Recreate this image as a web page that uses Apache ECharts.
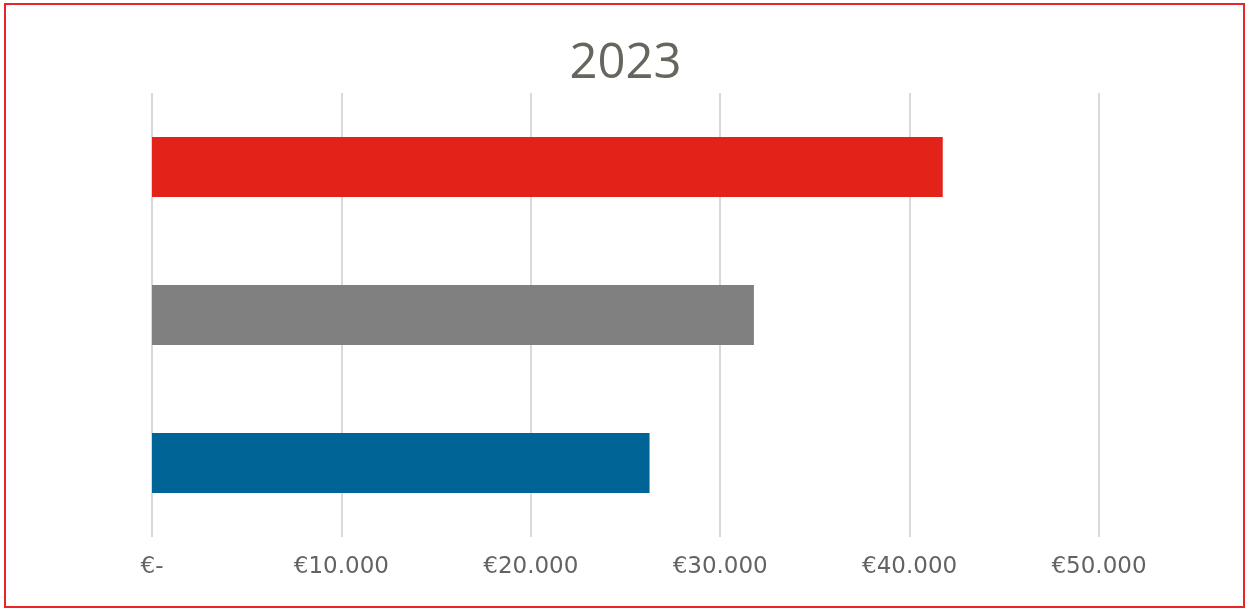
<!DOCTYPE html>
<html>
<head>
<meta charset="utf-8">
<script src="https://cdn.jsdelivr.net/npm/echarts@6/dist/echarts.min.js"></script>
<style>
  html, body { margin: 0; padding: 0; background: #ffffff; }
  #chart { width: 1251px; height: 609px; }
</style>
</head>
<body>
<div id="chart"></div>
<script>
// Yearly amounts in euro, one bar per category (top to bottom)
const categories = ['Categorie 1', 'Categorie 2', 'Categorie 3'];
const values = [41750, 31780, 26270];
const barColors = ['#E3221A', '#808080', '#006496'];
const tickValues = [0, 10000, 20000, 30000, 40000, 50000];
const title = '2023';

function euro(v) {
  if (v === 0) return '€-';
  return '€' + v.toLocaleString('de-DE');
}

const chart = echarts.init(document.getElementById('chart'));
chart.setOption({
  animation: false,
  backgroundColor: '#ffffff',
  title: {
    text: title,
    left: 'center',
    top: 35,
    textStyle: { fontFamily: 'Open Sans', fontSize: 49, fontWeight: 'normal', color: '#66665e' }
  },
  grid: { left: 152, right: 152, top: 93, bottom: 72 },
  xAxis: {
    type: 'value',
    min: tickValues[0],
    max: tickValues[tickValues.length - 1],
    interval: tickValues[1] - tickValues[0],
    axisLine: { show: false },
    axisTick: { show: false },
    splitLine: { show: true, lineStyle: { color: '#d9d9d9', width: 2 } },
    axisLabel: {
      formatter: euro,
      margin: 19,
      fontFamily: 'DejaVu Sans',
      fontSize: 23,
      color: '#636363'
    }
  },
  yAxis: {
    type: 'category',
    data: categories,
    inverse: true,
    axisLine: { show: false },
    axisTick: { show: false },
    axisLabel: { show: false }
  },
  series: [{
    type: 'bar',
    data: values.map((v, i) => ({ value: v, itemStyle: { color: barColors[i] } })),
    barWidth: 60
  }],
  graphic: [{
    type: 'rect',
    shape: { x: 5, y: 4, width: 1239, height: 603 },
    style: { fill: 'none', stroke: '#E8262A', lineWidth: 2 },
    silent: true
  }]
});
</script>
</body>
</html>
